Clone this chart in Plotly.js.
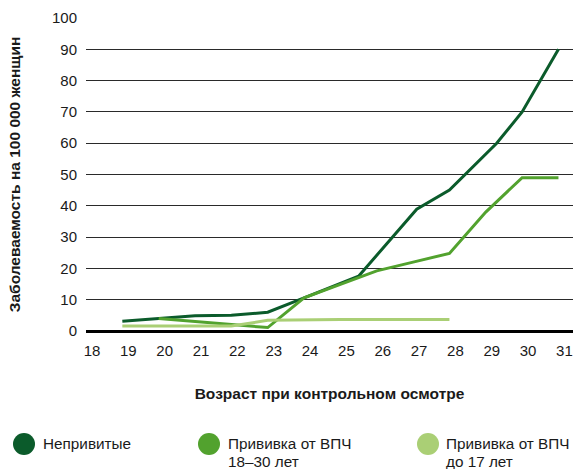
<!DOCTYPE html>
<html>
<head>
<meta charset="utf-8">
<script src="https://cdn.plot.ly/plotly-3.0.1.min.js"></script>
<style>html,body{margin:0;padding:0;background:#fff;}#chart{width:573px;height:469px;}</style>
</head>
<body>
<div id="chart"></div>
<script>
// ---- data ----
const xTicks = [18,19,20,21,22,23,24,25,26,27,28,29,30,31];
const xTickLabels = ["18","19","20","21","22","23","24","25","26","27","28","29","30","31"];

const unvaccName = "Непривитые";
const unvaccAge  = [19, 20, 21, 22, 23, 24, 25.5, 27.1, 28, 29.3, 30, 31];
const unvaccVal  = [3.1, 3.9, 4.9, 5, 6, 10.6, 17.5, 38.9, 45, 60, 70, 90];

const adultName = "Прививка от ВПЧ 18–30 лет";
const adultAge  = [20, 21, 22, 23, 24, 25, 26, 27, 28, 29, 30, 31];
const adultVal  = [4, 3, 2, 1.1, 10.6, 15, 19.2, 22, 24.8, 38, 49, 49];

const teenName = "Прививка от ВПЧ до 17 лет";
const teenAge  = [19, 20, 21, 22, 23, 24, 25, 26, 27, 28];
const teenVal  = [1.6, 1.6, 1.6, 1.6, 3.4, 3.6, 3.7, 3.7, 3.7, 3.7];

const legendLines = [
  ["Непривитые"],
  ["Прививка от ВПЧ", "18–30 лет"],
  ["Прививка от ВПЧ", "до 17 лет"]
];

// ---- styling ----
const colDark = "#0b5b2b", colMid = "#52a22e", colLight = "#aacf75";
const W = 573, H = 469;
const M = {l: 86, r: 0, t: 18, b: 138};
const PW = W - M.l - M.r, PH = H - M.t - M.b;
const px2x = p => (p - M.l) / PW;
const py2y = p => (H - M.b - p) / PH;
const font = "Liberation Sans, Arial, sans-serif";

const traces = [
  {x: unvaccAge, y: unvaccVal, name: unvaccName, type: "scatter", mode: "lines",
   line: {color: colDark, width: 3}},
  {x: adultAge, y: adultVal, name: adultName, type: "scatter", mode: "lines",
   line: {color: colMid, width: 3}},
  {x: teenAge, y: teenVal, name: teenName, type: "scatter", mode: "lines",
   line: {color: colLight, width: 3}}
];

const legendCols = [colDark, colMid, colLight];
const circX = [24, 209, 428];
const textX = [41, 226, 444];
const shapes = [], annotations = [];
legendCols.forEach((c, i) => {
  shapes.push({type: "circle", xref: "paper", yref: "paper",
    xsizemode: "pixel", ysizemode: "pixel",
    xanchor: px2x(circX[i]), yanchor: py2y(444),
    x0: -11, x1: 11, y0: -11, y1: 11,
    fillcolor: c, line: {width: 0}});
  legendLines[i].forEach((t, j) => {
    annotations.push({text: t, xref: "paper", yref: "paper",
      x: px2x(textX[i]), y: py2y(443 + j * 18), xanchor: "left", yanchor: "middle",
      showarrow: false, font: {family: font, size: 15.3, color: "#1a1a1a"}});
  });
});

const layout = {
  width: W, height: H,
  margin: M,
  paper_bgcolor: "#fff", plot_bgcolor: "#fff",
  showlegend: false,
  font: {family: font, color: "#1a1a1a"},
  xaxis: {
    range: [18, 31.4], tickvals: xTicks, ticktext: xTickLabels,
    showgrid: false, zeroline: false, showline: false, ticks: "",
    ticklabelshift: 6, ticklabelstandoff: 9, ticklabeloverflow: "allow",
    tickfont: {family: font, size: 15, color: "#1a1a1a"},
    title: {text: "<b>Возраст при контрольном осмотре</b>", standoff: 30,
            font: {family: font, size: 15.5, color: "#1a1a1a"}},
    fixedrange: true
  },
  yaxis: {
    range: [0, 100], dtick: 10, tick0: 0,
    showgrid: true, gridcolor: "#2a2a2a", gridwidth: 1,
    zeroline: true, zerolinecolor: "#000", zerolinewidth: 3,
    showline: false, ticks: "", ticklabelstandoff: 8,
    tickfont: {family: font, size: 15, color: "#1a1a1a"},
    title: {text: "<b>Заболеваемость на 100 000 женщин</b>", standoff: 27,
            font: {family: font, size: 15.5, color: "#1a1a1a"}},
    fixedrange: true
  },
  shapes: shapes,
  annotations: annotations
};

Plotly.newPlot("chart", traces, layout, {displayModeBar: false, staticPlot: true});
</script>
</body>
</html>
